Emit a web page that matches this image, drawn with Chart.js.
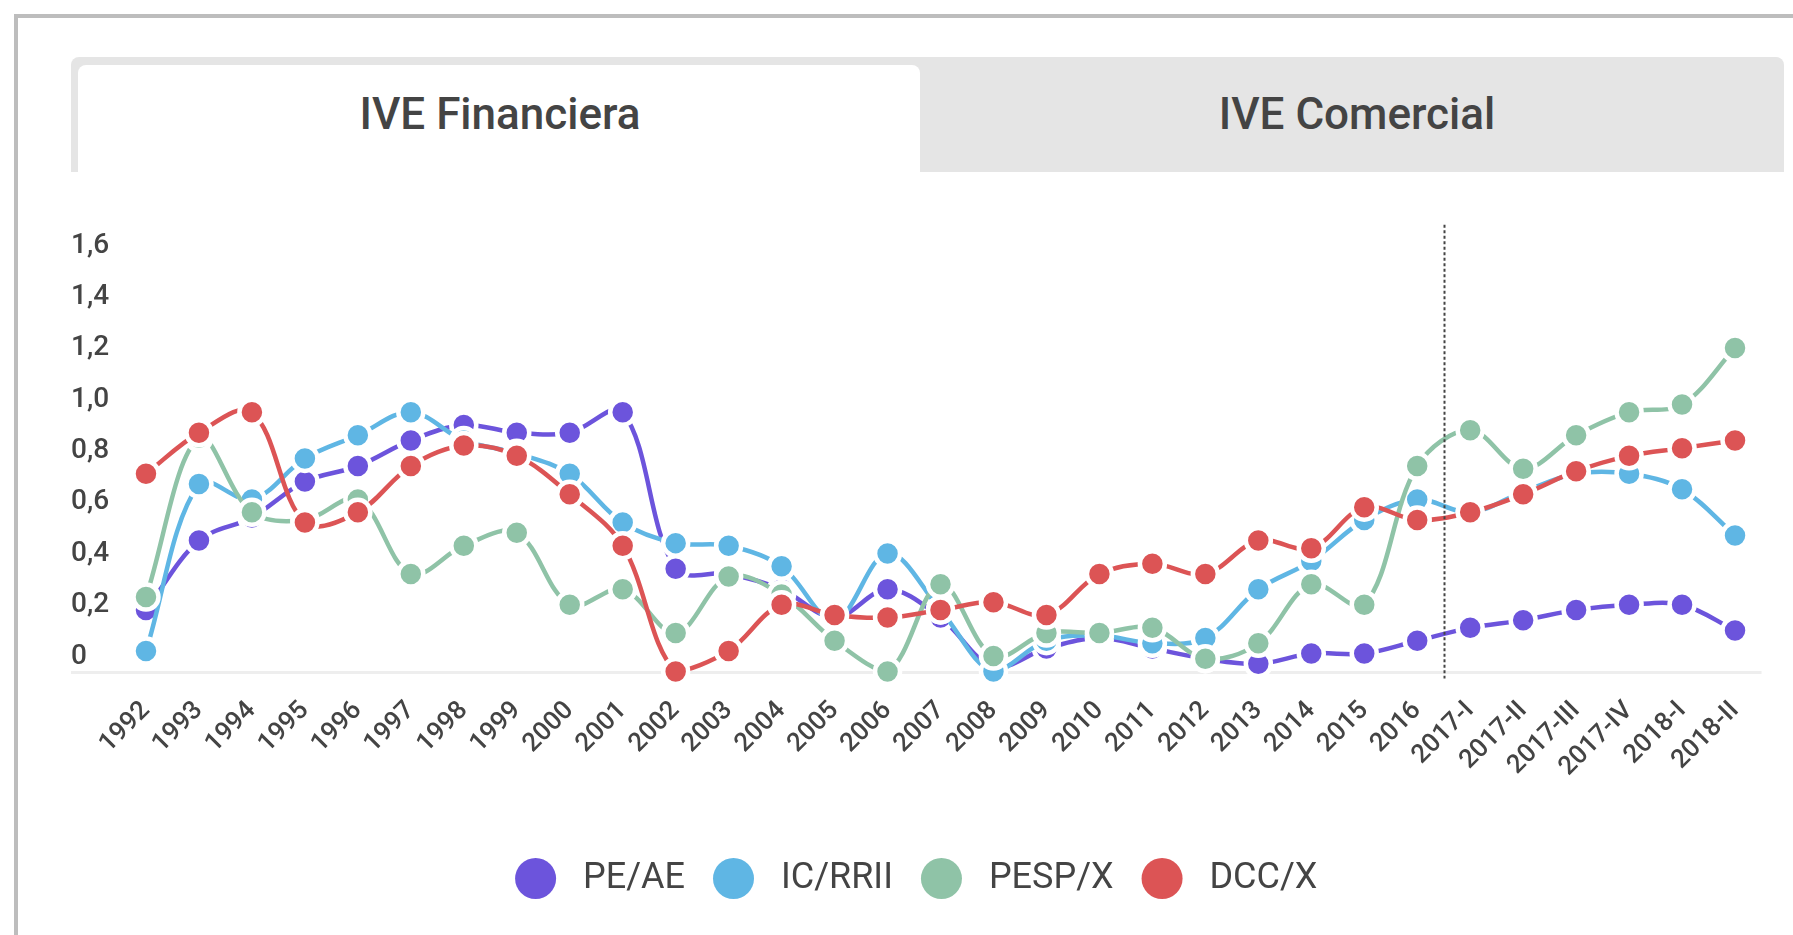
<!DOCTYPE html>
<html lang="es">
<head>
<meta charset="utf-8">
<title>IVE Financiera</title>
<script src="https://cdn.jsdelivr.net/npm/chart.js@4.4.1/dist/chart.umd.min.js"></script>
<style>
    html, body { margin: 0; padding: 0; background: #fff; }
    body { width: 1793px; height: 935px; position: relative; overflow: hidden; font-family: Roboto, 'Noto Sans', sans-serif; }
    .card { position: absolute; left: 14px; top: 14px; width: 1800px; height: 940px; border-top: 4px solid #bdbdbd; border-left: 4px solid #bdbdbd; }
    .tabs { position: absolute; left: 71px; top: 57px; width: 1713px; height: 115px; background: #e5e5e5; border-radius: 8px 8px 0 0; }
    .tab-active { position: absolute; left: 78px; top: 65px; width: 842px; height: 107px; background: #fff; border-radius: 8px 8px 0 0; }
    .tab-label { position: absolute; top: 92px; width: 400px; text-align: center; font-size: 44px; line-height: 44px; font-weight: 500; color: #444; white-space: nowrap; }
    #chart-wrap { position: absolute; left: 0; top: 180px; width: 1793px; height: 755px; }
</style>
</head>
<body>
<div class="card"></div>
<div class="tabs"></div>
<div class="tab-active"></div>
<div class="tab-label" style="left: 300px;">IVE Financiera</div>
<div class="tab-label" style="left: 1157px;">IVE Comercial</div>
<div id="chart-wrap"><canvas id="iveChart"></canvas></div>

<script>
// Datos del gráfico
const categories = ['1992', '1993', '1994', '1995', '1996', '1997', '1998', '1999', '2000', '2001',
    '2002', '2003', '2004', '2005', '2006', '2007', '2008', '2009', '2010', '2011', '2012', '2013',
    '2014', '2015', '2016', '2017-I', '2017-II', '2017-III', '2017-IV', '2018-I', '2018-II'];

const peAe   = [0.24, 0.51, 0.60, 0.74, 0.80, 0.90, 0.96, 0.93, 0.93, 1.01, 0.40, 0.38, 0.32, 0.21, 0.32, 0.21,
                0.02, 0.09, 0.13, 0.09, 0.05, 0.03, 0.07, 0.07, 0.12, 0.17, 0.20, 0.24, 0.26, 0.26, 0.16];
const icRrii = [0.08, 0.73, 0.67, 0.83, 0.92, 1.01, 0.90, 0.85, 0.77, 0.58, 0.50, 0.49, 0.41, 0.20, 0.46, 0.24,
                0.00, 0.12, 0.14, 0.11, 0.13, 0.32, 0.43, 0.59, 0.67, 0.62, 0.70, 0.77, 0.77, 0.71, 0.53];
const pespX  = [0.29, 0.91, 0.62, 0.59, 0.67, 0.38, 0.49, 0.54, 0.26, 0.32, 0.15, 0.37, 0.30, 0.12, 0.00, 0.34,
                0.06, 0.15, 0.15, 0.17, 0.05, 0.11, 0.34, 0.26, 0.80, 0.94, 0.79, 0.92, 1.01, 1.04, 1.26];
const dccX   = [0.77, 0.93, 1.01, 0.58, 0.62, 0.80, 0.88, 0.84, 0.69, 0.49, 0.00, 0.08, 0.26, 0.22, 0.21, 0.24,
                0.27, 0.22, 0.38, 0.42, 0.38, 0.51, 0.48, 0.64, 0.59, 0.62, 0.69, 0.78, 0.84, 0.87, 0.90];

const seriesNames = ['PE/AE', 'IC/RRII', 'PESP/X', 'DCC/X'];
const yTickLabels = ['0', '0,2', '0,4', '0,6', '0,8', '1,0', '1,2', '1,4', '1,6'];
const firstProjected = '2017-I';

const colors = ['#6c54dc', '#5fb6e4', '#8fc3a7', '#dc5455'];
const textColor = '#444444';

// Helper: one line series
function makeDataset(label, data, color, order) {
    return {
        label: label,
        data: data,
        order: order,
        borderColor: color,
        backgroundColor: color,
        borderWidth: 4.5,
        tension: 0.35,
        fill: false,
        clip: false,
        pointRadius: 12.5,
        pointHoverRadius: 12.5,
        pointBackgroundColor: color,
        pointBorderColor: '#ffffff',
        pointBorderWidth: 4.5
    };
}

// Baseline under the labels and dotted divider before the projected periods
const chartDecorations = {
    id: 'chartDecorations',
    beforeDatasetsDraw(chart) {
        const {ctx, chartArea, scales} = chart;
        const y0 = scales.y.getPixelForValue(0);
        ctx.save();
        ctx.strokeStyle = '#eeeeee';
        ctx.lineWidth = 3;
        ctx.beginPath();
        ctx.moveTo(scales.y.left, y0 + 1);
        ctx.lineTo(chartArea.right, y0 + 1);
        ctx.stroke();
        ctx.restore();
    },
    afterDatasetsDraw(chart) {
        const {ctx, chartArea, scales} = chart;
        const xd = Math.round(scales.x.getPixelForValue(categories.indexOf(firstProjected) - 0.5)) + 0.5;
        ctx.save();
        ctx.strokeStyle = '#444444';
        ctx.lineWidth = 2;
        ctx.setLineDash([3, 2.5]);
        ctx.beginPath();
        ctx.moveTo(xd, chartArea.top - 36);
        ctx.lineTo(xd, chartArea.bottom + 7);
        ctx.stroke();
        ctx.restore();
    }
};

document.addEventListener('DOMContentLoaded', function() {
    const ctx = document.getElementById('iveChart').getContext('2d');
    const seriesData = [peAe, icRrii, pespX, dccX];

    new Chart(ctx, {
        type: 'line',
        data: {
            labels: categories,
            datasets: seriesNames.map((name, i) => makeDataset(name, seriesData[i], colors[i], seriesNames.length - i))
        },
        options: {
            responsive: true,
            maintainAspectRatio: false,
            animation: false,
            layout: {
                padding: { left: 71, right: 31.5, top: 80.7, bottom: 28.5 }
            },
            scales: {
                x: {
                    offset: true,
                    grid: { display: false, drawTicks: false },
                    border: { display: false },
                    ticks: {
                        autoSkip: false,
                        minRotation: 45,
                        maxRotation: 45,
                        padding: 24,
                        color: textColor,
                        font: { family: 'Roboto', size: 26, weight: '500' }
                    },
                    afterFit: function(axis) { axis.height = 161; }
                },
                y: {
                    min: 0,
                    max: 1.6,
                    grid: { display: false, drawTicks: false },
                    border: { display: false },
                    ticks: {
                        stepSize: 0.2,
                        crossAlign: 'far',
                        labelOffset: -15,
                        color: textColor,
                        font: { family: 'Roboto', size: 28, weight: '500' },
                        callback: function(value, index) { return yTickLabels[index]; }
                    },
                    afterFit: function(axis) { axis.width = 48.5; }
                }
            },
            plugins: {
                legend: {
                    position: 'bottom',
                    labels: {
                        usePointStyle: true,
                        pointStyleWidth: 41,
                        boxHeight: 29,
                        padding: 28,
                        color: textColor,
                        font: { family: 'Roboto', size: 36 },
                        generateLabels: function(chart) {
                            return chart.data.datasets.map((ds, i) => ({
                                text: ' ' + ds.label,
                                fillStyle: ds.backgroundColor,
                                strokeStyle: ds.backgroundColor,
                                lineWidth: 0,
                                pointStyle: 'circle',
                                hidden: !chart.isDatasetVisible(i),
                                datasetIndex: i,
                                fontColor: textColor
                            }));
                        }
                    }
                },
                tooltip: { enabled: false }
            }
        },
        plugins: [chartDecorations]
    });
});
</script>
</body>
</html>
